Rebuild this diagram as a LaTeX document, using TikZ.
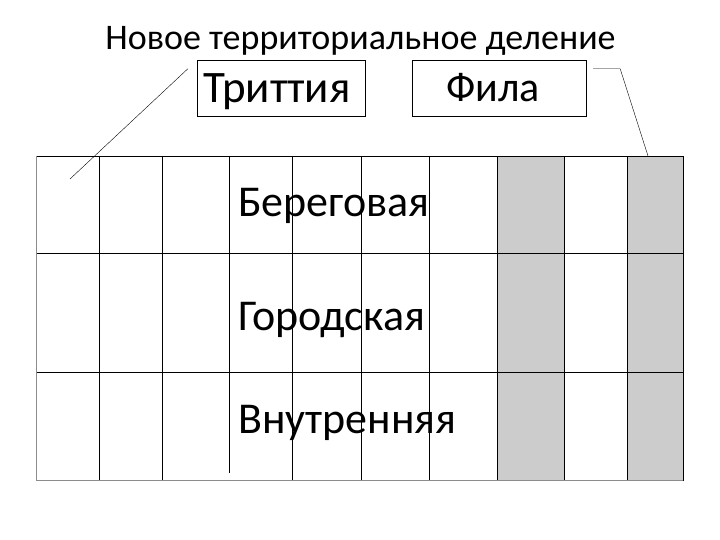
\documentclass[tikz,border=0pt]{standalone}
\usepackage{fontspec}
\setmainfont{Carlito}
\usetikzlibrary{positioning}

\begin{document}
\begin{tikzpicture}[x=1pt,y=-1pt]
	% Styles
	\tikzstyle{tagbox}=[draw, rectangle, thin, inner sep=0pt, minimum height=56pt, text depth=13pt, text height=43pt]
	\tikzstyle{rowname}=[anchor=base west, inner sep=0pt, font={\fontsize{44}{48}\selectfont}]
	\tikzstyle{link}=[thin]
	\tikzstyle{cell}=[fill=black!20, draw=black, thin]

	\useasboundingbox (0,0) rectangle (720,540);

	% Title
	\node[anchor=base, inner sep=0pt, font={\fontsize{36}{40}\selectfont}] (title) at (360.5,50) {Новое территориальное деление};

	% Labels
	\node[tagbox, minimum width=168pt, font={\fontsize{45}{48}\selectfont}] (trittys) at (281,88) {\hspace{-8pt}Триттия};
	\node[tagbox, minimum width=174pt, text depth=14pt, text height=42pt, font={\fontsize{42}{46}\selectfont}] (phyle) at (499,88) {\hspace{-12pt}Фила};

	% Grid
	\fill[cell] (497,156) rectangle (564,480);
	\fill[cell] (627,156) rectangle (683,480);
	\draw[cell] (497,156) rectangle (564,480);
	\draw[cell] (627,156) rectangle (683,480);
	\foreach \x in {99,162,292,361,429}
		\draw[thin] (\x,156) -- (\x,480);
	\draw[thin] (229,156) -- (229,473);
	\draw[thin] (36,253) -- (683,253);
	\draw[thin] (36,372) -- (683,372);
	\draw[thin] (36,156) -- (683,156) -- (683,480);
	\draw[thin, black!45] (683,480) -- (36,480) -- (36,156);

	% Rows
	\node[rowname] (coast) at (238,217) {Береговая};
	\node[rowname] (city) at (238,330) {Городская};
	\node[rowname] (inland) at (238,433) {Внутренняя};

	% Connectors
	\coordinate (trittysend) at (70,179);
	\coordinate (phyleend) at (648,156);
	\draw[link] ([xshift=-9pt, yshift=-9pt]trittys.north west) -- (trittysend);
	\draw[link] ([xshift=7pt, yshift=-9pt]phyle.north east) -- ++(27,0) -- (phyleend);
\end{tikzpicture}
\end{document}
